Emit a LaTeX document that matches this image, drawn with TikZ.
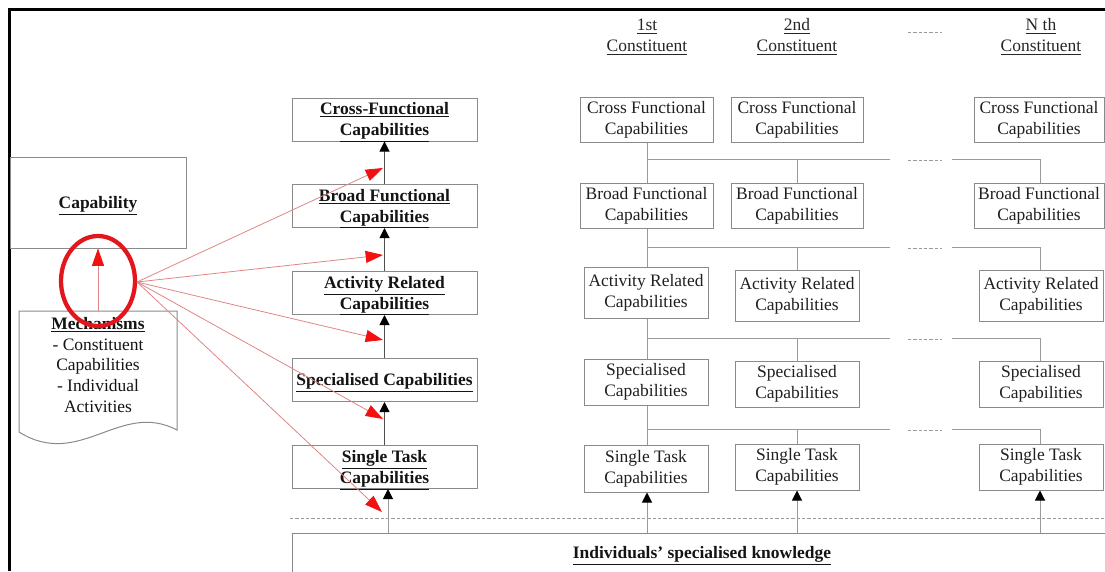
\documentclass[tikz,border=0pt]{standalone}
\usepackage{fontspec}
\setmainfont{Liberation Serif}
\usetikzlibrary{arrows.meta,shapes.geometric,calc}
\definecolor{boxgray}{HTML}{8A8A8A}
\definecolor{linegray}{HTML}{9A9A9A}
\definecolor{spinegray}{HTML}{505050}
\definecolor{inkgray}{HTML}{141414}
\definecolor{ringred}{HTML}{E3161E}
\definecolor{pinkline}{HTML}{E08585}
\definecolor{headred}{HTML}{F21010}
\newdimen\pxu \pxu=0.75pt
% extra head room balancing the depth that underlining adds
\newcommand\ulstrut{\rule{0pt}{13.3pt}}
\begin{document}
\begin{tikzpicture}[x=0.75pt,y=-0.75pt,
  txt/.style={font=\fontsize{13.1pt}{15.75pt}\selectfont, text=inkgray, align=center, inner sep=0pt},
  hdr/.style={txt, text=black!85},
  spine/.style={txt, font=\fontsize{13.1pt}{15.75pt}\selectfont\bfseries, draw=boxgray, line width=0.75pt,
    inner ysep=-4\pxu, minimum width=185\pxu, minimum height=43\pxu},
  colbox/.style={txt, text=black!88, draw=boxgray, line width=0.75pt},
  link/.style={draw=linegray, line width=0.75pt},
  gapdash/.style={draw=linegray, line width=0.75pt, dash pattern=on 2.5pt off 1.5pt},
  upar/.style={draw=spinegray, line width=0.75pt, -{Triangle[length=7.5pt,width=7.5pt,color=black]}},
  colup/.style={draw=linegray, line width=0.75pt, -{Triangle[length=7.5pt,width=7.5pt,color=black]}},
  redar/.style={draw=pinkline, line width=0.6pt, -{Triangle[length=13pt,width=9pt,color=headred]}},
  ring/.style={draw=ringred, line width=3.2pt, ellipse, minimum width=74\pxu, minimum height=90\pxu, inner sep=0pt},
]
\useasboundingbox (0,0) rectangle (1105,571);
\clip (0,0) rectangle (1105,571);

% frame lines on the left and top
\draw[line width=2.3pt, black] (9.5,571) -- (9.5,9.5) -- (1105,9.5);

% column headings
\node[hdr] (h1) at (647,34) {\ulstrut\underline{1st}\\\underline{Constituent}};
\node[hdr] (h2) at (797,34) {\ulstrut\underline{2nd}\\\underline{Constituent}};
\node[hdr] (hn) at (1041,34) {\ulstrut\underline{N th}\\\underline{Constituent}};
\coordinate (hdA) at (908,32);
\coordinate (hdB) at (942,32);
\draw[gapdash] (hdA) -- (hdB);

% capability and its mechanisms
\node[txt, font=\fontsize{13.1pt}{15.75pt}\selectfont\bfseries, draw=boxgray, line width=0.75pt,
  minimum width=176\pxu, minimum height=91\pxu] (cap) at (98,202.5) {\ulstrut\underline{Capability}};
\draw[boxgray, line width=0.75pt] (19,311) -- (177,311) -- (177,430)
  .. controls (120,400) and (80,470) .. (19,432) -- cycle;
\node[txt, font=\fontsize{13.1pt}{15.5pt}\selectfont] (mech) at (98,365)
  {\underline{\textbf{Mechanisms}}\\- Constituent\\Capabilities\\- Individual\\Activities};
\coordinate (mtop) at (98,311);
\draw[redar] (mtop) -- (cap.south);
\node[ring] (ring) at (98,281) {};

% central hierarchy
\node[spine] (cf) at (384.5,119.5) {\ulstrut\underline{Cross-Functional}\\\underline{Capabilities}};
\node[spine] (bf) at (384.5,206) {\ulstrut\underline{Broad Functional}\\\underline{Capabilities}};
\node[spine] (ar) at (384.5,293) {\ulstrut\underline{Activity Related}\\\underline{Capabilities}};
\node[spine] (sc) at (384.5,380) {\ulstrut\underline{Specialised Capabilities}};
\node[spine] (st) at (384.5,467) {\ulstrut\underline{Single Task}\\\underline{Capabilities}};
\draw[upar] (bf.north) -- (cf.south);
\draw[upar] (ar.north) -- (bf.south);
\draw[upar] (sc.north) -- (ar.south);
\draw[upar] (st.north) -- (sc.south);

% knowledge base
\coordinate (dl1) at (290,518);
\coordinate (dl2) at (1105,518);
\draw[linegray, line width=0.75pt, dash pattern=on 2.5pt off 1.5pt] (dl1) -- (dl2);
\node[txt, font=\fontsize{13.1pt}{15.75pt}\selectfont\bfseries, draw=boxgray, line width=0.75pt,
  minimum width=820\pxu, minimum height=40\pxu] (know) at (702,553)
  {\ulstrut\underline{Individuals’ specialised knowledge}};
\coordinate (k0) at (388,533);
\draw[colup] (k0) -- (k0 |- st.south);

% mechanisms acting on each level
\coordinate (hub) at (137,282);
\coordinate (r1) at (383,168);
\coordinate (r2) at (383,255);
\coordinate (r3) at (383,340);
\coordinate (r4) at (383,419);
\coordinate (r5) at (382,512);
\foreach \t in {r1,r2,r3,r4,r5} \draw[redar] (hub) -- (\t);

% constituent columns
\node[colbox, minimum width=133\pxu, minimum height=45\pxu] (aCF) at (646.5,119.5) {Cross Functional\\Capabilities};
\node[colbox, minimum width=133\pxu, minimum height=45\pxu] (aBF) at (646.5,205.5) {Broad Functional\\Capabilities};
\node[colbox, minimum width=124\pxu, minimum height=51\pxu] (aAR) at (646,292.5) {Activity Related\\Capabilities};
\node[colbox, minimum width=124\pxu, minimum height=46\pxu] (aSC) at (646,382) {Specialised\\Capabilities};
\node[colbox, minimum width=124\pxu, minimum height=47\pxu] (aST) at (646,468.5) {Single Task\\Capabilities};

\node[colbox, minimum width=132\pxu, minimum height=45\pxu] (bCF) at (797,119.5) {Cross Functional\\Capabilities};
\node[colbox, minimum width=132\pxu, minimum height=45\pxu] (bBF) at (797,205.5) {Broad Functional\\Capabilities};
\node[colbox, minimum width=124\pxu, minimum height=51\pxu] (bAR) at (797,295.5) {Activity Related\\Capabilities};
\node[colbox, minimum width=124\pxu, minimum height=46\pxu] (bSC) at (797,384) {Specialised\\Capabilities};
\node[colbox, minimum width=124\pxu, minimum height=46\pxu] (bST) at (797,467) {Single Task\\Capabilities};

\node[colbox, minimum width=130\pxu, minimum height=45\pxu] (nCF) at (1039,119.5) {Cross Functional\\Capabilities};
\node[colbox, minimum width=130\pxu, minimum height=45\pxu] (nBF) at (1039,205.5) {Broad Functional\\Capabilities};
\node[colbox, minimum width=124\pxu, minimum height=51\pxu] (nAR) at (1041,295.5) {Activity Related\\Capabilities};
\node[colbox, minimum width=124\pxu, minimum height=46\pxu] (nSC) at (1041,384) {Specialised\\Capabilities};
\node[colbox, minimum width=124\pxu, minimum height=46\pxu] (nST) at (1041,467) {Single Task\\Capabilities};

% joins between successive levels
\foreach \u/\l/\y in {CF/BF/159, BF/AR/247, AR/SC/338, SC/ST/429} {
  \coordinate (jA\l) at (647,\y);
  \coordinate (jB\l) at (890,\y);
  \coordinate (jC\l) at (908,\y+1);
  \coordinate (jD\l) at (942,\y+1);
  \coordinate (jE\l) at (952,\y);
  \coordinate (jF\l) at (1040,\y);
  \draw[link] (jA\l |- a\u.south) -- (jA\l |- a\l.north);
  \draw[link] (jA\l) -- (jB\l);
  \draw[link] (b\l.north |- jA\l) -- (b\l.north);
  \draw[gapdash] (jC\l) -- (jD\l);
  \draw[link] (jE\l) -- (jF\l) -- (jF\l |- n\l.north);
}

% knowledge feeding each constituent
\foreach \c/\x in {a/647, b/797, n/1040} {
  \coordinate (k\c) at (\x,533);
  \draw[colup] (k\c) -- (k\c |- \c ST.south);
}
\end{tikzpicture}
\end{document}
